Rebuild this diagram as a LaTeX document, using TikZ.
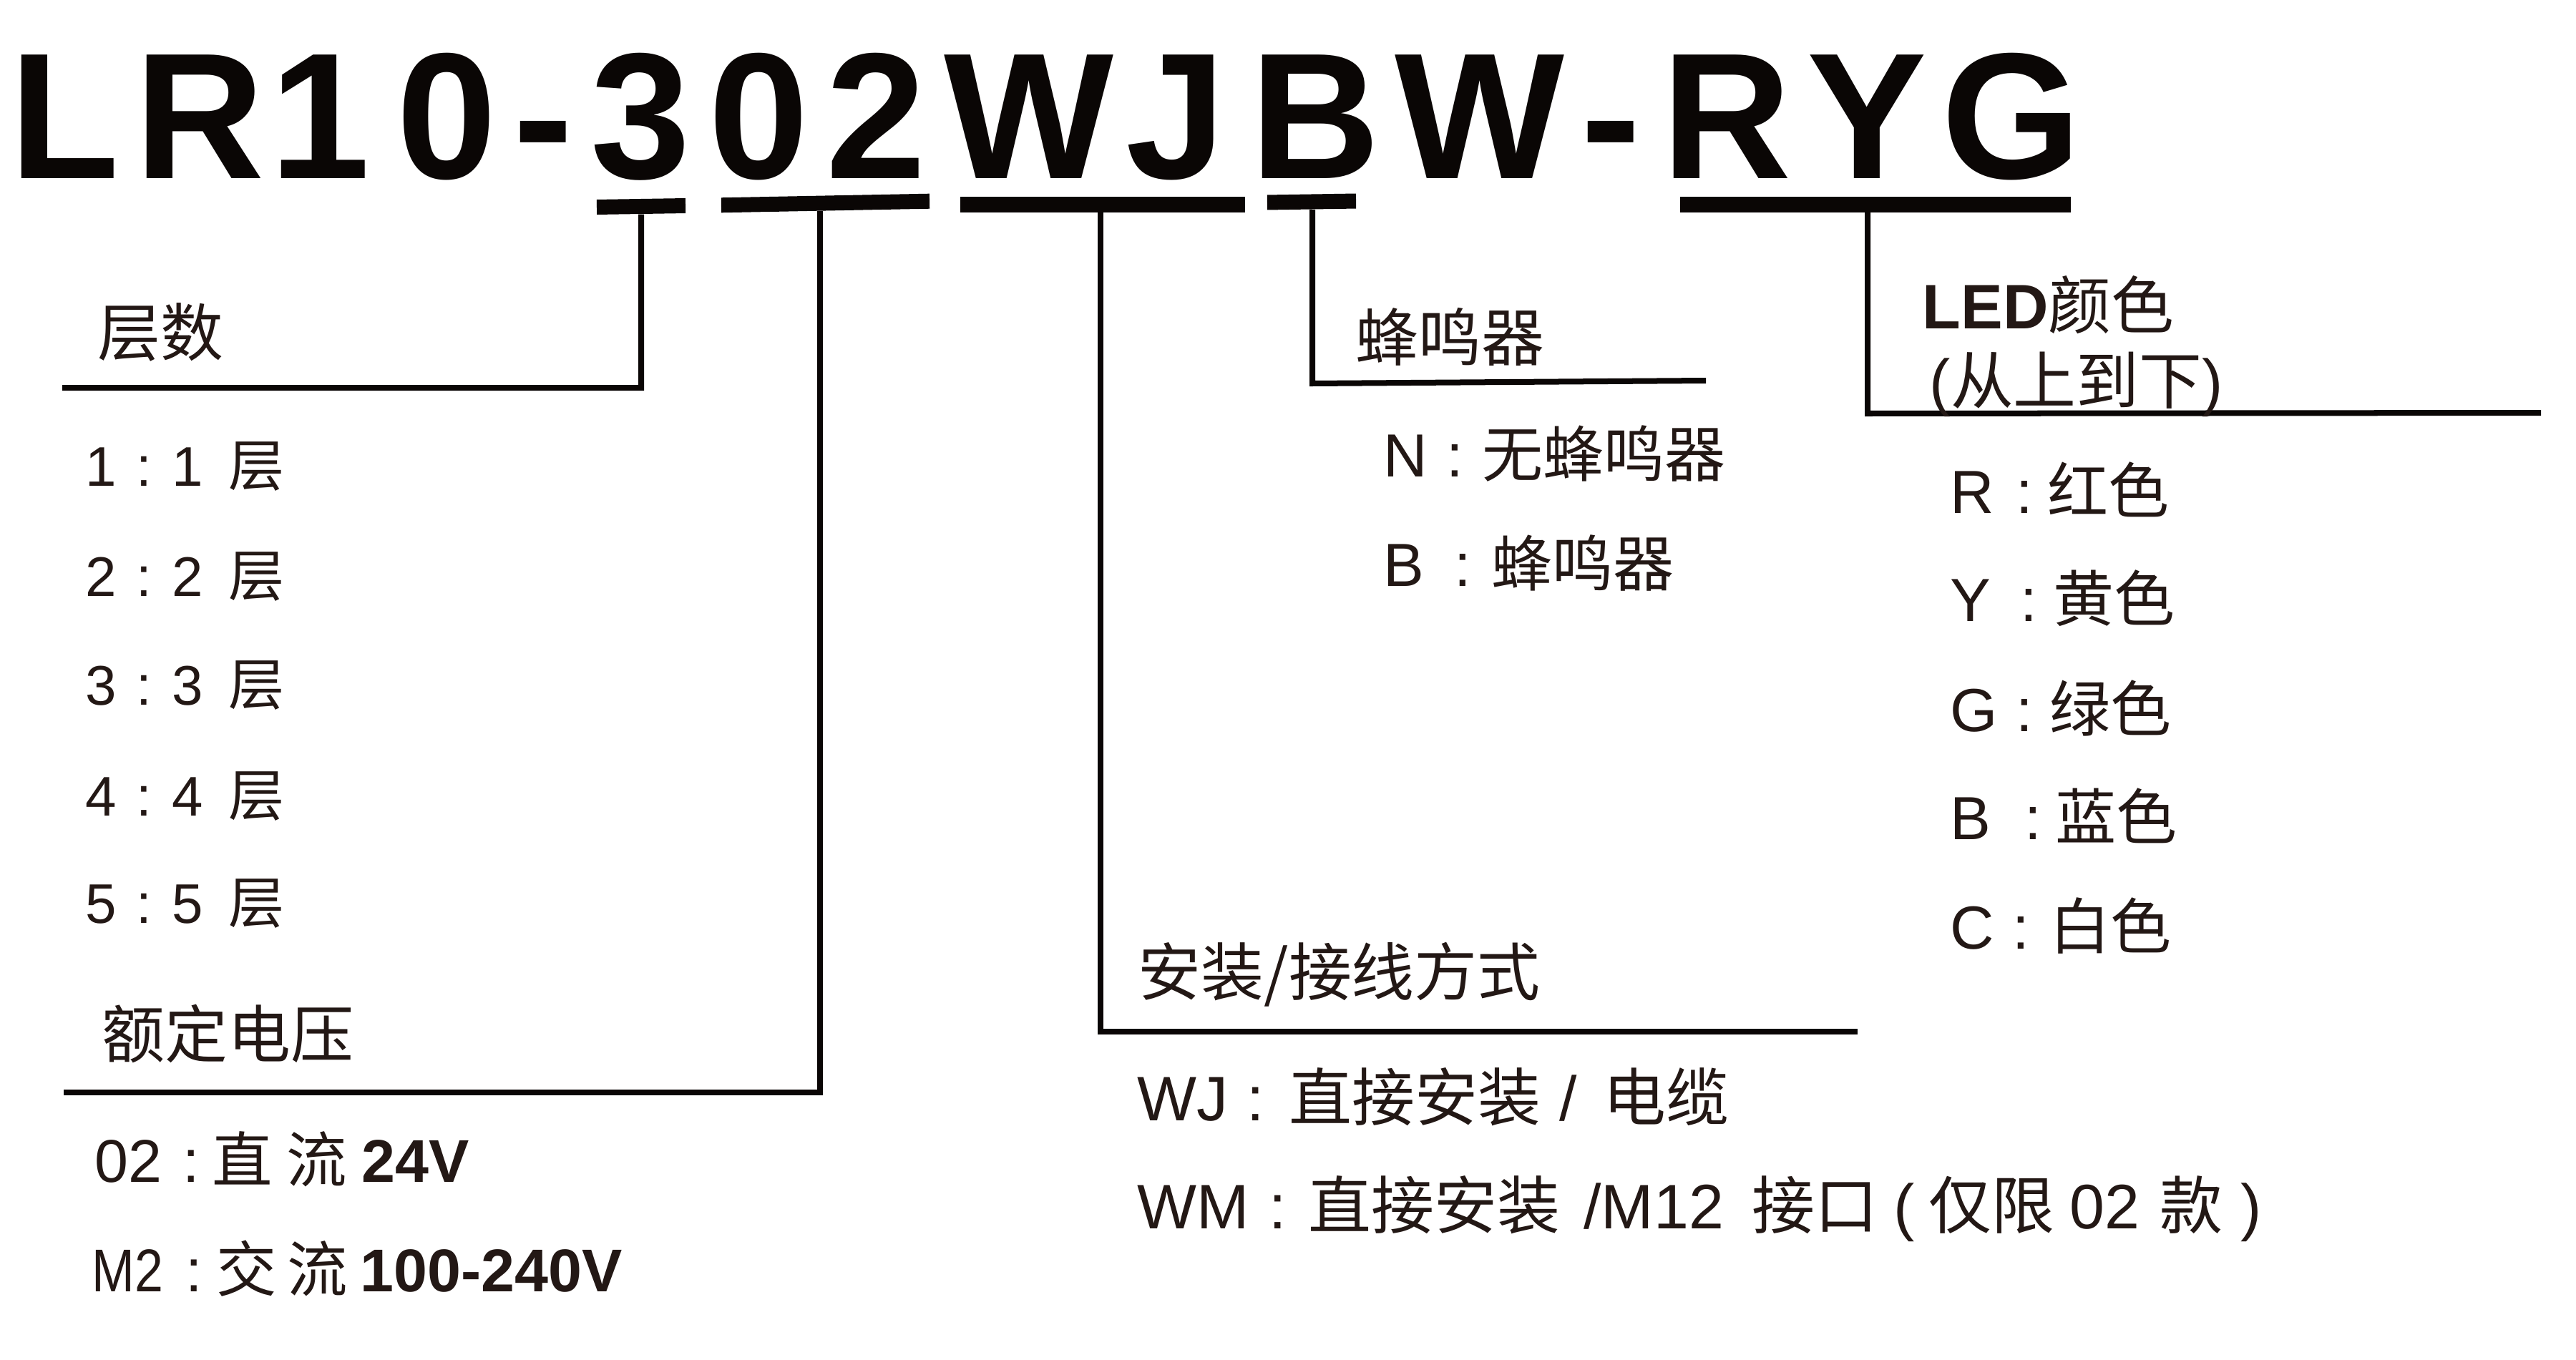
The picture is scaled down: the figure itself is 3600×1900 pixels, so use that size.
\documentclass[tikz,border=0pt]{standalone}
\usepackage{fontspec}
\setmainfont{Liberation Sans}
\newfontfamily\cjk{Noto Sans CJK SC}
\newcommand\zh[1]{{\cjk #1}}
\newlength\px \setlength\px{0.01cm}
\newcommand\pp[2]{\makebox[0pt][l]{\hspace{#1\px}#2}}
\definecolor{inkc}{HTML}{0A0605}
\definecolor{txtc}{HTML}{231815}
\begin{document}
\begin{tikzpicture}[x=0.01cm,y=-0.01cm,
  bar/.style={fill=inkc,draw=none,inner sep=0,minimum height=0.21cm},
  conn/.style={draw=inkc,line width=0.08cm,line join=miter},
  ttl/.style={anchor=base,inner sep=0,text=inkc,font=\fontsize{71.4}{80}\selectfont\bfseries},
  lbl/.style={anchor=base west,inner sep=0,text=txtc},
  hd/.style={lbl,font=\fontsize{25}{30}\selectfont},
  lsA/.style={lbl,font=\fontsize{22.2}{26}\selectfont},
  lsB/.style={lbl,font=\fontsize{24}{28}\selectfont},
  lsC/.style={lbl,font=\fontsize{24.2}{28}\selectfont},
  lsD/.style={lbl,font=\fontsize{25}{30}\selectfont}]
\fill[white] (0,0) rectangle (3600,1900);
\useasboundingbox (0,0) rectangle (3600,1900);
% title
\node[ttl] (t1) at (90.5,249) {L};
\node[ttl] (t2) at (279.5,249) {R};
\node[ttl] (t3) at (447,249) {1};
\node[ttl] (t4) at (624,249) {0};
\node[ttl] (t5) at (759,249) {-};
\node[ttl] (t6) at (895.5,249) {3};
\node[ttl] (t7) at (1060,249) {0};
\node[ttl] (t8) at (1224,249) {2};
\node[ttl] (t9) at (1437.5,249) {W};
\node[ttl] (t10) at (1643,249) {J};
\node[ttl] (t11) at (1838.5,249) {B};
\node[ttl] (t12) at (2068,249) {W};
\node[ttl] (t13) at (2251,249) {-};
\node[ttl] (t14) at (2413,249) {R};
\node[ttl] (t15) at (2609,249) {Y};
\node[ttl] (t16) at (2811,249) {G};
% underline bars
\node[bar,minimum width=1.24cm,rotate=0.9] (b3) at (896,288.5) {};
\node[bar,minimum width=2.91cm,rotate=1.1] (b02) at (1153.5,284) {};
\node[bar,minimum width=3.98cm] (bWJ) at (1541,286) {};
\node[bar,minimum width=1.24cm,rotate=0.9] (bB) at (1833,282) {};
\node[bar,minimum width=5.46cm] (bRYG) at (2621,286) {};
% connector corners and ends
\coordinate (c3) at (896,542);   \coordinate (e3) at (87,542);
\coordinate (c02) at (1146,1527); \coordinate (e02) at (89,1527);
\coordinate (cWJ) at (1538,1442); \coordinate (eWJ) at (2596,1442);
\coordinate (cB) at (1834,536);  \coordinate (eB) at (2384,532);
\coordinate (cR) at (2610,578);  \coordinate (eR) at (3551,577);
\draw[conn] (b3.south) -- (c3) -- (e3);
\draw[conn] (b02.south -| c02) -- (c02) -- (e02);
\draw[conn] (bWJ.south -| cWJ) -- (cWJ) -- (eWJ);
\draw[conn] (bB.south -| cB) -- (cB) -- (eB);
\draw[conn] (bRYG.south -| cR) -- (cR) -- (eR);
% layers
\node[hd] (hl) at (136,497) {\zh{层数}};
\node[lsA] (n1) at (117,679) {\pp{0}{1}\pp{71}{:}\pp{121}{1}\pp{200}{\zh{层}}};
\node[lsA] (n2) at (117,833) {\pp{0}{2}\pp{71}{:}\pp{121}{2}\pp{200}{\zh{层}}};
\node[lsA] (n3) at (117,985) {\pp{0}{3}\pp{71}{:}\pp{121}{3}\pp{200}{\zh{层}}};
\node[lsA] (n4) at (117,1140) {\pp{0}{4}\pp{71}{:}\pp{121}{4}\pp{200}{\zh{层}}};
\node[lsA] (n5) at (117,1290) {\pp{0}{5}\pp{71}{:}\pp{121}{5}\pp{200}{\zh{层}}};
% voltage
\node[hd] (hv) at (142,1478) {\zh{额定电压}};
\node[lsB] (v1) at (130,1652) {\pp{0}{02}\pp{123}{:}\pp{164}{\zh{直}}\pp{268}{\zh{流}}\pp{373}{\textbf{24V}}};
\node[lsB] (v2) at (126,1805) {\pp{0}{\scalebox{0.85}[1]{M2}}\pp{131}{:}\pp{174}{\zh{交}}\pp{273}{\zh{流}}\pp{375}{\textbf{100-240V}}};
% buzzer
\node[hd] (hb) at (1894,504) {\zh{蜂鸣器}};
\node[lsC] (bz1) at (1931,666) {\pp{0}{N}\pp{88}{:}\pp{138}{\zh{无蜂鸣器}}};
\node[lsC] (bz2) at (1931,819) {\pp{0}{B}\pp{99}{:}\pp{151}{\zh{蜂鸣器}}};
% mounting
\node[hd] (hw) at (1590,1391) {\zh{安装/接线方式}};
\node[lsD] (w1) at (1587,1566) {\pp{0}{WJ}\pp{153}{:}\pp{212}{\zh{直接安装}}\pp{590}{/}\pp{651}{\zh{电缆}}};
\node[lsD] (w2) at (1587,1717) {\pp{0}{WM}\pp{184}{:}\pp{239}{\zh{直接安装}}\pp{624}{/M12}\pp{859}{\zh{接口}}\pp{1057}{(}\pp{1106}{\zh{仅限}}\pp{1303}{02}\pp{1429}{\zh{款}}\pp{1542}{)}};
% LED colour
\node[hd] (hc) at (2686,459) {\textbf{LED}\zh{颜色}};
\node[hd] (hc2) at (2696,564) {(\zh{从上到下})};
\node[lsC] (k1) at (2723,717) {\pp{0}{R}\pp{92}{:}\pp{136}{\zh{红色}}};
\node[lsC] (k2) at (2723,868) {\pp{0}{Y}\pp{98}{:}\pp{144}{\zh{黄色}}};
\node[lsC] (k3) at (2723,1022) {\pp{0}{G}\pp{92}{:}\pp{139}{\zh{绿色}}};
\node[lsC] (k4) at (2723,1173) {\pp{0}{B}\pp{104}{:}\pp{147}{\zh{蓝色}}};
\node[lsC] (k5) at (2723,1326) {\pp{0}{C}\pp{87}{:}\pp{139}{\zh{白色}}};
\end{tikzpicture}
\end{document}
